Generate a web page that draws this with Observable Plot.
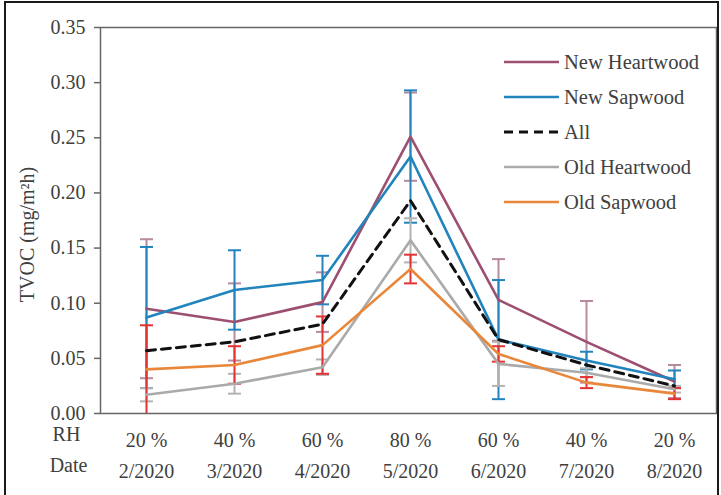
<!DOCTYPE html>
<html><head><meta charset="utf-8">
<script src="https://cdn.jsdelivr.net/npm/d3@7"></script>
<script src="https://cdn.jsdelivr.net/npm/@observablehq/plot@0.6"></script>
<style>
html,body{margin:0;padding:0;background:#fff;}
#wrap{position:relative;width:721px;height:495px;overflow:hidden;font-family:"Liberation Serif","DejaVu Serif",serif;}
#border{position:absolute;left:4px;top:1px;width:711px;height:540px;border:2px solid #1a1a1a;pointer-events:none;}
#chart{position:absolute;left:0;top:0;}
.lg{position:absolute;left:504px;height:22px;display:flex;align-items:center;font-size:20.5px;color:#404040;white-space:nowrap;}
.lg svg{margin-right:5px;}
</style>
</head><body>
<div id="wrap"><div id="chart"></div><div id="legend"></div><div id="border"></div></div>
<script>
const dates = ["2/2020","3/2020","4/2020","5/2020","6/2020","7/2020","8/2020"];
const rhLabels = ["20 %","40 %","60 %","80 %","60 %","40 %","20 %"];
const yTicks = [0,0.05,0.10,0.15,0.20,0.25,0.30,0.35];

const seriesNames = ["New Heartwood","New Sapwood","All","Old Heartwood","Old Sapwood"];
const newHeartwood    = [0.095,0.083,0.101,0.251,0.103,0.065,0.029];
const newHeartwoodErr = [0.063,0.035,0.027,0.040,0.037,0.037,0.015];
const newSapwood      = [0.087,0.112,0.121,0.233,0.067,0.048,0.031];
const newSapwoodErr   = [0.064,0.036,0.022,0.060,0.054,0.008,0.008];
const allValues       = [0.057,0.065,0.081,0.193,0.067,0.044,0.025];
const oldHeartwood    = [0.017,0.027,0.042,0.157,0.045,0.037,0.022];
const oldHeartwoodErr = [0.006,0.009,0.007,0.020,0.020,0.004,0.003];
const oldSapwood      = [0.040,0.044,0.062,0.131,0.054,0.028,0.018];
const oldSapwoodErr   = [0.040,0.017,0.026,0.013,0.007,0.005,0.005];

const lineColors = {"New Heartwood":"#9c4f70","New Sapwood":"#2184bd","All":"#111111","Old Heartwood":"#aaaaaa","Old Sapwood":"#e8873a"};
const errColors  = {"New Heartwood":"#b88aa0","New Sapwood":"#2184bd","Old Heartwood":"#b3b3b3","Old Sapwood":"#e23232"};

const seriesDefs = [
  {name:"New Heartwood", values:newHeartwood, err:newHeartwoodErr},
  {name:"New Sapwood", values:newSapwood, err:newSapwoodErr},
  {name:"All", values:allValues, err:null},
  {name:"Old Heartwood", values:oldHeartwood, err:oldHeartwoodErr},
  {name:"Old Sapwood", values:oldSapwood, err:oldSapwoodErr}
];
const rows = [];
seriesDefs.forEach(s => s.values.forEach((v,i) => rows.push({series:s.name, date:dates[i], value:v, err:s.err ? s.err[i] : null})));
const of = name => rows.filter(d => d.series === name);

// horizontal cap symbol for error bars
const capSymbol = {draw(ctx, size) { const w = 6.5; ctx.moveTo(-w, 0); ctx.lineTo(w, 0); }};

const errMarks = [];
["New Heartwood","New Sapwood","Old Heartwood","Old Sapwood"].forEach(name => {
  const c = errColors[name];
  errMarks.push(Plot.ruleX(of(name), {x:"date", y1:d => Math.max(0, d.value - d.err), y2:d => d.value + d.err, stroke:c, strokeWidth:2}));
  errMarks.push(Plot.dot(of(name), {x:"date", y:d => d.value + d.err, symbol:capSymbol, r:6, fill:"none", stroke:c, strokeWidth:2}));
  errMarks.push(Plot.dot(of(name).filter(d => d.value - d.err > 0.001), {x:"date", y:d => d.value - d.err, symbol:capSymbol, r:6, fill:"none", stroke:c, strokeWidth:2}));
});

const lineOrder = ["Old Heartwood","Old Sapwood","New Heartwood","New Sapwood"];
const lineMarks = lineOrder.map(name => Plot.line(of(name), {x:"date", y:"value", stroke:lineColors[name], strokeWidth:2.6}));
lineMarks.push(Plot.line(of("All"), {x:"date", y:"value", stroke:"#111", strokeWidth:3, strokeDasharray:"9,6"}));

const chart = Plot.plot({
  width:721, height:495,
  marginLeft:100, marginTop:27, marginRight:5, marginBottom:82,
  style:{fontFamily:"'Liberation Serif', serif", fontSize:"20px", color:"#404040", background:"transparent", overflow:"visible"},
  x:{type:"point", domain:dates, padding:0.48, align:0.52},
  y:{domain:[0,0.35]},
  marks:[
    Plot.frame({stroke:"#666", strokeWidth:1.5}),
    Plot.axisY({ticks:yTicks, tickFormat:d3.format(".2f"), tickSize:6, tickPadding:9, label:null, stroke:"#666", strokeWidth:1.5}),
    Plot.axisX({tickSize:0, tickPadding:19, tickFormat:d => rhLabels[dates.indexOf(d)], label:null}),
    Plot.axisX({tickSize:0, tickPadding:50, label:null}),
    Plot.text(["TVOC (mg/m²h)"], {frameAnchor:"left", textAnchor:"middle", rotate:-90, dx:-73, dy:14, fill:"#404040", fontSize:20}),
    Plot.text(["RH"], {frameAnchor:"bottom-left", textAnchor:"middle", dx:-34, dy:27, fill:"#404040"}),
    Plot.text(["Date"], {frameAnchor:"bottom-left", textAnchor:"middle", dx:-32, dy:58, fill:"#404040"}),
    ...errMarks,
    ...lineMarks
  ]
});
document.getElementById("chart").appendChild(chart);

const legendTops = [62,97,132,167,202];
const legend = document.getElementById("legend");
seriesNames.forEach((name,i) => {
  const div = document.createElement("div");
  div.className = "lg";
  div.style.top = (legendTops[i] - 11) + "px";
  const dash = name === "All" ? ' stroke-dasharray="9,6"' : '';
  const sw = name === "All" ? 3 : 2.6;
  div.innerHTML = `<svg width="55" height="6"><line x1="0" x2="55" y1="3" y2="3" stroke="${lineColors[name]}" stroke-width="${sw}"${dash}/></svg><span>${name}</span>`;
  legend.appendChild(div);
});
</script>
</body></html>
